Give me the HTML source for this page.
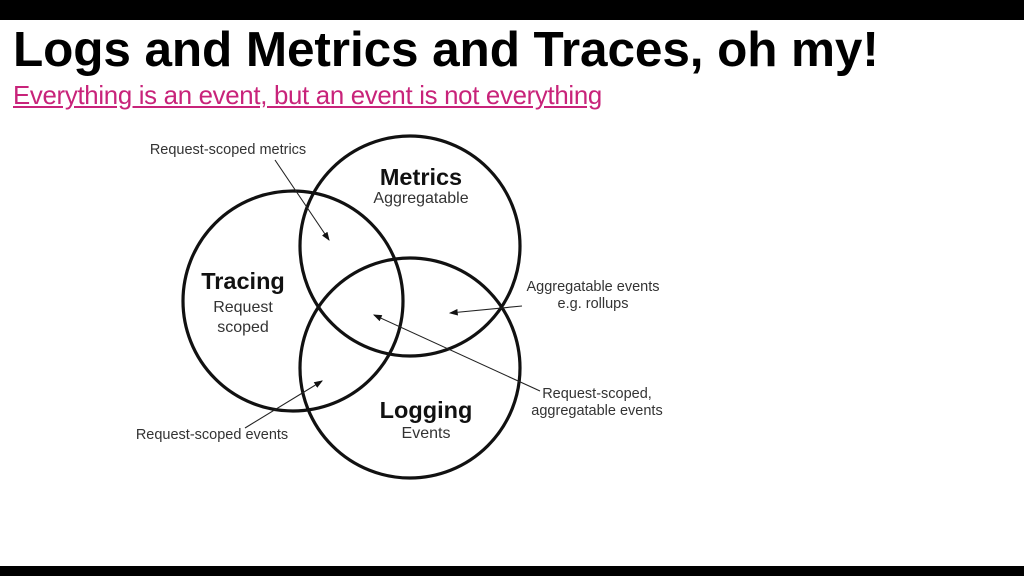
<!DOCTYPE html>
<html><head><style>
body{margin:0;width:1024px;height:576px;background:#fff;position:relative;overflow:hidden;font-family:"Liberation Sans",Arial,sans-serif}
.bar{position:absolute;left:0;width:1024px;background:#000}
h1{position:absolute;left:13px;top:21px;margin:0;font-size:49.5px;font-weight:bold;color:#000;white-space:nowrap;letter-spacing:-0.1px}
.sub{position:absolute;left:13px;top:82px;font-size:25.8px;color:#c8237a;text-decoration:underline;white-space:nowrap;letter-spacing:-0.3px}
</style></head><body>
<div class="bar" style="top:0;height:20px"></div>
<div class="bar" style="top:566px;height:10px"></div>
<h1>Logs and Metrics and Traces, oh my!</h1>
<div class="sub">Everything is an event, but an event is not everything</div>
<svg width="1024" height="576" style="position:absolute;left:0;top:0" font-family="Liberation Sans, Arial, sans-serif">
<defs><marker id="a" markerWidth="8" markerHeight="6" refX="7" refY="3" orient="auto"><path d="M0,0 L8,3 L0,6z" fill="#111"/></marker></defs>
<g fill="none" stroke="#111" stroke-width="3.2">
<circle cx="410" cy="246" r="110"/>
<circle cx="293" cy="301" r="110"/>
<circle cx="410" cy="368" r="110"/>
</g>
<g stroke="#222" stroke-width="1.1" marker-end="url(#a)">
<line x1="275" y1="160" x2="329" y2="240"/>
<line x1="522" y1="306" x2="450" y2="313"/>
<line x1="540" y1="391" x2="374" y2="315"/>
<line x1="245" y1="428" x2="322" y2="381"/>
</g>
<g text-anchor="middle" fill="#111">
<text x="421" y="185" font-size="23.5" font-weight="bold">Metrics</text>
<text x="421" y="203" font-size="16" fill="#333">Aggregatable</text>
<text x="243" y="289" font-size="23.5" font-weight="bold">Tracing</text>
<text x="243" y="312" font-size="16" fill="#333">Request</text>
<text x="243" y="332" font-size="16" fill="#333">scoped</text>
<text x="426" y="418" font-size="23.5" font-weight="bold">Logging</text>
<text x="426" y="438" font-size="16" fill="#333">Events</text>
<g font-size="14.5" fill="#333">
<text x="228" y="154">Request-scoped metrics</text>
<text x="593" y="291">Aggregatable events</text>
<text x="593" y="308">e.g. rollups</text>
<text x="597" y="398">Request-scoped,</text>
<text x="597" y="415">aggregatable events</text>
<text x="212" y="439">Request-scoped events</text>
</g>
</g>
</svg>
</body></html>
